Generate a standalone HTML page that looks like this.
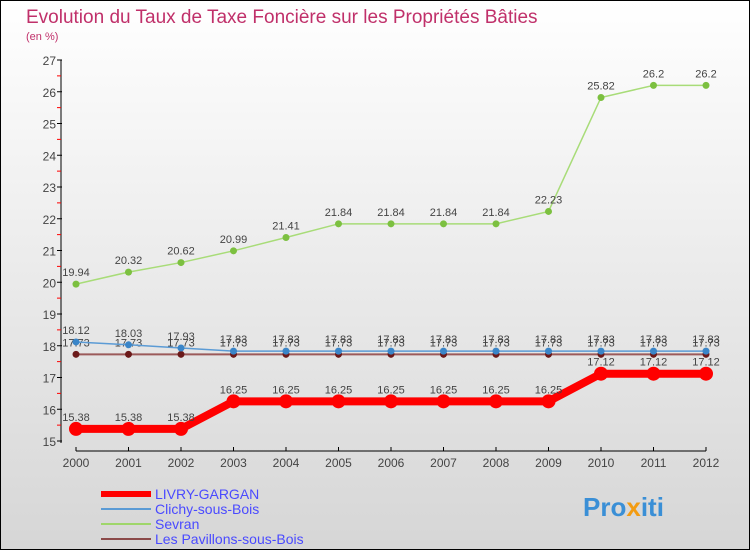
<!DOCTYPE html>
<html><head><meta charset="utf-8"><style>
body{margin:0}
#c{width:748px;height:548px;border:1px solid #000;background:linear-gradient(#fff,#d6d6d6);position:relative;font-family:"Liberation Sans",sans-serif;overflow:hidden}
</style></head><body>
<div id="c">
<svg width="748" height="548" id="s" style="font-family:'Liberation Sans',sans-serif">
<text x="25" y="22" font-size="19" fill="#c0306a">Evolution du Taux de Taxe Foncière sur les Propriétés Bâties</text>
<text x="25" y="39" font-size="11" fill="#c0306a">(en %)</text>
<g id="ax"></g><g id="ser"></g>
<g>
<line x1="100" y1="493" x2="150" y2="493" stroke="#f00" stroke-width="6"/><text x="154" y="498" font-size="14" fill="#4a4aff">LIVRY-GARGAN</text>
<line x1="100" y1="508" x2="150" y2="508" stroke="#5b9bd5" stroke-width="2"/><text x="154" y="513" font-size="14" fill="#4a4aff">Clichy-sous-Bois</text>
<line x1="100" y1="523" x2="150" y2="523" stroke="#9fd66b" stroke-width="2"/><text x="154" y="528" font-size="14" fill="#4a4aff">Sevran</text>
<line x1="100" y1="538" x2="150" y2="538" stroke="#8b4a4a" stroke-width="2"/><text x="154" y="543" font-size="14" fill="#4a4aff">Les Pavillons-sous-Bois</text>
</g>
<text x="582" y="515" font-size="26" font-weight="bold" fill="#3a8fd6">Pro<tspan fill="#f39c12">x</tspan>iti</text>
</svg></div>
<script>
const years=[2000,2001,2002,2003,2004,2005,2006,2007,2008,2009,2010,2011,2012];
const livry=[15.38,15.38,15.38,16.25,16.25,16.25,16.25,16.25,16.25,16.25,17.12,17.12,17.12];
const clichy=[18.12,18.03,17.93,17.83,17.83,17.83,17.83,17.83,17.83,17.83,17.83,17.83,17.83];
const sevran=[19.94,20.32,20.62,20.99,21.41,21.84,21.84,21.84,21.84,22.23,25.82,26.2,26.2];
const pav=[17.73,17.73,17.73,17.73,17.73,17.73,17.73,17.73,17.73,17.73,17.73,17.73,17.73];
const yTicks=[15,16,17,18,19,20,21,22,23,24,25,26,27];
const NS="http://www.w3.org/2000/svg";
const X=i=>75+i*52.5, Y=v=>440-(v-15)*31.75;
function mk(t,a,p){const e=document.createElementNS(NS,t);for(const k in a)e.setAttribute(k,a[k]);p.appendChild(e);return e;}
const ax=document.getElementById('ax');
mk('line',{x1:60,y1:Y(27),x2:60,y2:Y(15)+2,stroke:'#000'},ax);
mk('line',{x1:75,y1:450,x2:X(12),y2:450,stroke:'#000'},ax);
yTicks.forEach(v=>{mk('line',{x1:56,y1:Y(v),x2:61,y2:Y(v),stroke:'#000'},ax);
 if(v<27)mk('line',{x1:56,y1:Y(v+0.5),x2:60,y2:Y(v+0.5),stroke:'#f00'},ax);
 const t=mk('text',{x:55,y:Y(v)+5,'font-size':12,'text-anchor':'end',fill:'#444'},ax);t.textContent=v;
 
 });
years.forEach((y,i)=>{mk('line',{x1:X(i),y1:446,x2:X(i),y2:450,stroke:'#000'},ax);
 const t=mk('text',{x:X(i),y:466,'font-size':12,'text-anchor':'middle',fill:'#444'},ax);t.textContent=y;
 
 });
const ser=document.getElementById('ser');
function draw(d,col,w,r,dot,name){
 const g=mk('g',{},ser);
 
 
 mk('polyline',{points:d.map((v,i)=>X(i)+','+Y(v)).join(' '),fill:'none',stroke:col,'stroke-width':w},g);
 d.forEach((v,i)=>{const c=mk('circle',{cx:X(i),cy:Y(v),r:r,fill:dot},g);
  
  
  const t=mk('text',{x:X(i),y:Y(v)-8,'font-size':11,'text-anchor':'middle',fill:'#444'},g);t.textContent=v;});
}
draw(pav,'#9b5a5a',2,3.5,'#6b1a1a','series-pavillons');
draw(clichy,'#5b9bd5',1.5,3.5,'#3a85c8','series-clichy');
draw(sevran,'#a8dc78',1.5,3.5,'#7cc040','series-sevran');
draw(livry,'#f00',8,7,'#f00','series-livry-gargan');
</script>
</body></html>
